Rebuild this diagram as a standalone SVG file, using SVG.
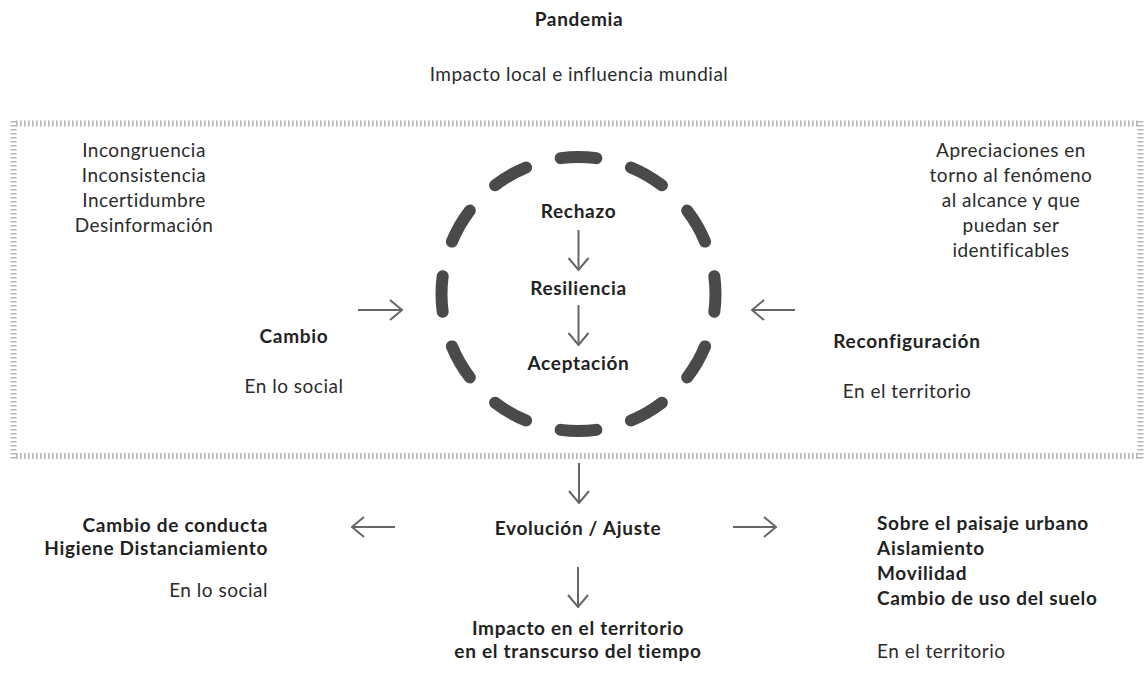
<svg xmlns="http://www.w3.org/2000/svg" width="1144" height="673" viewBox="0 0 1144 673">
<style>
.t{font-family:Lato,"Liberation Sans",sans-serif;font-size:19px;letter-spacing:0.5px;fill:#2b2b2b}
.b{font-family:Lato,"Liberation Sans",sans-serif;font-size:19px;letter-spacing:0.7px;font-weight:bold;fill:#222}
.m{text-anchor:middle}
.e{text-anchor:end}
.arr{stroke:#666;stroke-width:2;fill:none}
.tickh{stroke:#b5b5b5;stroke-width:6;stroke-dasharray:1.6 2.4;fill:none}
</style>
<defs>
<marker id="ah" viewBox="0 0 14 22" refX="13" refY="11" markerWidth="14" markerHeight="22" markerUnits="userSpaceOnUse" orient="auto">
<path d="M1 1 L13 11 L1 21" stroke="#666" stroke-width="2" fill="none"/>
</marker>
</defs>
<g id="frame">
<line class="tickh" x1="16" y1="123.5" x2="1140" y2="123.5"/>
<line class="tickh" x1="16" y1="456" x2="1140" y2="456"/>
<line class="tickh" x1="13.5" y1="121" x2="13.5" y2="459"/>
<line class="tickh" x1="1140.5" y1="121" x2="1140.5" y2="459"/>
</g>
<g id="circle">
<circle cx="578.5" cy="294" r="137" fill="none" stroke="#4a4a4a" stroke-width="12" stroke-linecap="round" pathLength="360" stroke-dasharray="15 15" stroke-dashoffset="7.5"/>
</g>
<g id="pandemia"><text class="b m" x="579" y="26">Pandemia</text></g>
<g id="impacto-local"><text class="t m" x="579" y="81">Impacto local e influencia mundial</text></g>
<g id="incongruencia">
<text class="t m" x="144" y="157">Incongruencia</text>
<text class="t m" x="144" y="182">Inconsistencia</text>
<text class="t m" x="144" y="207">Incertidumbre</text>
<text class="t m" x="144" y="232">Desinformación</text>
</g>
<g id="apreciaciones">
<text class="t m" x="1011" y="157">Apreciaciones en</text>
<text class="t m" x="1011" y="182">torno al fenómeno</text>
<text class="t m" x="1011" y="207">al alcance y que</text>
<text class="t m" x="1011" y="232">puedan ser</text>
<text class="t m" x="1011" y="257">identificables</text>
</g>
<g id="rechazo"><text class="b m" x="578.5" y="218">Rechazo</text></g>
<g id="resiliencia"><text class="b m" x="578.5" y="295">Resiliencia</text></g>
<g id="aceptacion"><text class="b m" x="578.5" y="370">Aceptación</text></g>
<g id="cambio">
<text class="b m" x="294" y="343">Cambio</text>
<text class="t m" x="294" y="393">En lo social</text>
</g>
<g id="reconfiguracion">
<text class="b m" x="907" y="348">Reconfiguración</text>
<text class="t m" x="907" y="398">En el territorio</text>
</g>
<g id="evolucion"><text class="b m" x="578" y="535">Evolución / Ajuste</text></g>
<g id="conducta">
<text class="b e" x="268" y="532">Cambio de conducta</text>
<text class="b e" x="268" y="555">Higiene Distanciamiento</text>
<text class="t e" x="268" y="597">En lo social</text>
</g>
<g id="paisaje">
<text class="b" x="877" y="530">Sobre el paisaje urbano</text>
<text class="b" x="877" y="555">Aislamiento</text>
<text class="b" x="877" y="580">Movilidad</text>
<text class="b" x="877" y="605">Cambio de uso del suelo</text>
<text class="t" x="877" y="658">En el territorio</text>
</g>
<g id="impacto-territorio">
<text class="b m" x="578" y="635">Impacto en el territorio</text>
<text class="b m" x="578" y="658">en el transcurso del tiempo</text>
</g>
<g id="connectors">
<line class="arr" x1="578.5" y1="230" x2="578.5" y2="270" marker-end="url(#ah)"/>
<line class="arr" x1="578.5" y1="305" x2="578.5" y2="345" marker-end="url(#ah)"/>
<line class="arr" x1="358" y1="310" x2="402" y2="310" marker-end="url(#ah)"/>
<line class="arr" x1="795" y1="310" x2="752" y2="310" marker-end="url(#ah)"/>
<line class="arr" x1="579" y1="463" x2="579" y2="503" marker-end="url(#ah)"/>
<line class="arr" x1="395" y1="527" x2="352" y2="527" marker-end="url(#ah)"/>
<line class="arr" x1="733" y1="527" x2="776" y2="527" marker-end="url(#ah)"/>
<line class="arr" x1="578" y1="567" x2="578" y2="607" marker-end="url(#ah)"/>
</g>
</svg>
